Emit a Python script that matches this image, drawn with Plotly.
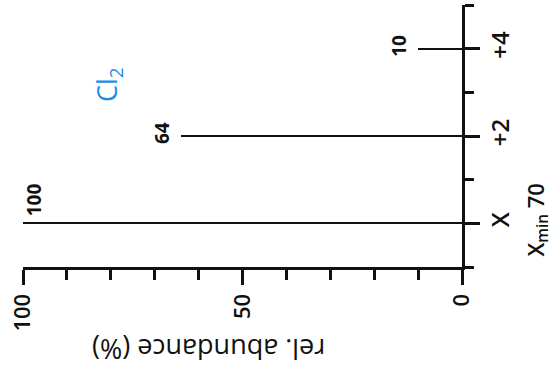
import plotly.graph_objects as go

# Data
peak_labels = ["X", "+2", "+4"]
mass_offsets = [0, 2, 4]
abundance = [100, 64, 10]
x_ticks = [0, 50, 100]
species = "Cl<sub>2</sub>"

BLACK = "#111111"
BLUE = "#1a8fe6"
FONT = "Open Sans"

fig = go.Figure()
fig.add_trace(go.Bar(
    x=abundance, y=mass_offsets, orientation="h",
    width=0.05, marker=dict(color=BLACK, line=dict(width=0)),
    showlegend=False, hoverinfo="skip",
))

# value labels at bar tips
top = max(abundance)
for v, m in zip(abundance, mass_offsets):
    if v == top:
        xs, ys = 11, 23
    else:
        xs, ys = -19, 3
    fig.add_annotation(x=v, y=m, xref="x", yref="y", text=str(v),
                       showarrow=False, textangle=-90, xshift=xs, yshift=ys,
                       xanchor="center", yanchor="middle",
                       font=dict(family=FONT, size=19, color=BLACK, weight=700))

fig.add_annotation(x=80.5, y=3.18, xref="x", yref="y", text=species,
                   showarrow=False, textangle=-90, xanchor="center", yanchor="middle",
                   font=dict(family=FONT, size=27, color=BLUE))

fig.add_annotation(x=0.424, y=-0.317, xref="paper", yref="paper",
                   text="rel. abundance (%)", showarrow=False, textangle=180,
                   xanchor="center", yanchor="middle",
                   font=dict(family=FONT, size=27, color=BLACK))

fig.add_annotation(x=1.17, y=0.18, xref="paper", yref="paper",
                   text="X<sub>min</sub> 70", showarrow=False, textangle=-90,
                   xanchor="center", yanchor="middle",
                   font=dict(family=FONT, size=22, color=BLACK, weight=600))

fig.update_layout(
    width=556, height=372,
    margin=dict(l=23, r=94, t=5, b=105),
    plot_bgcolor="white", paper_bgcolor="white",
    bargap=0,
    xaxis=dict(
        range=[100, 0], showgrid=False, zeroline=False,
        showline=True, linewidth=3, linecolor=BLACK,
        ticks="outside", tickvals=x_ticks, ticklen=15, tickwidth=2.5, tickcolor=BLACK,
        tickangle=-90, tickfont=dict(family=FONT, size=22, color=BLACK, weight=600),
        minor=dict(dtick=10, tick0=0, ticks="outside", ticklen=10, tickwidth=2.5, tickcolor=BLACK, showgrid=False),
    ),
    yaxis=dict(
        range=[-1, 5], side="right", showgrid=False, zeroline=False,
        showline=True, linewidth=3, linecolor=BLACK,
        ticks="outside", tickvals=mass_offsets, ticktext=peak_labels,
        ticklen=15, tickwidth=2.5, tickcolor=BLACK,
        tickangle=-90, tickfont=dict(family=FONT, size=24, color=BLACK, weight=600),
        minor=dict(dtick=1, tick0=-1, ticks="outside", ticklen=9, tickwidth=2.5, tickcolor=BLACK, showgrid=False),
    ),
)

fig.write_html("out.html")
